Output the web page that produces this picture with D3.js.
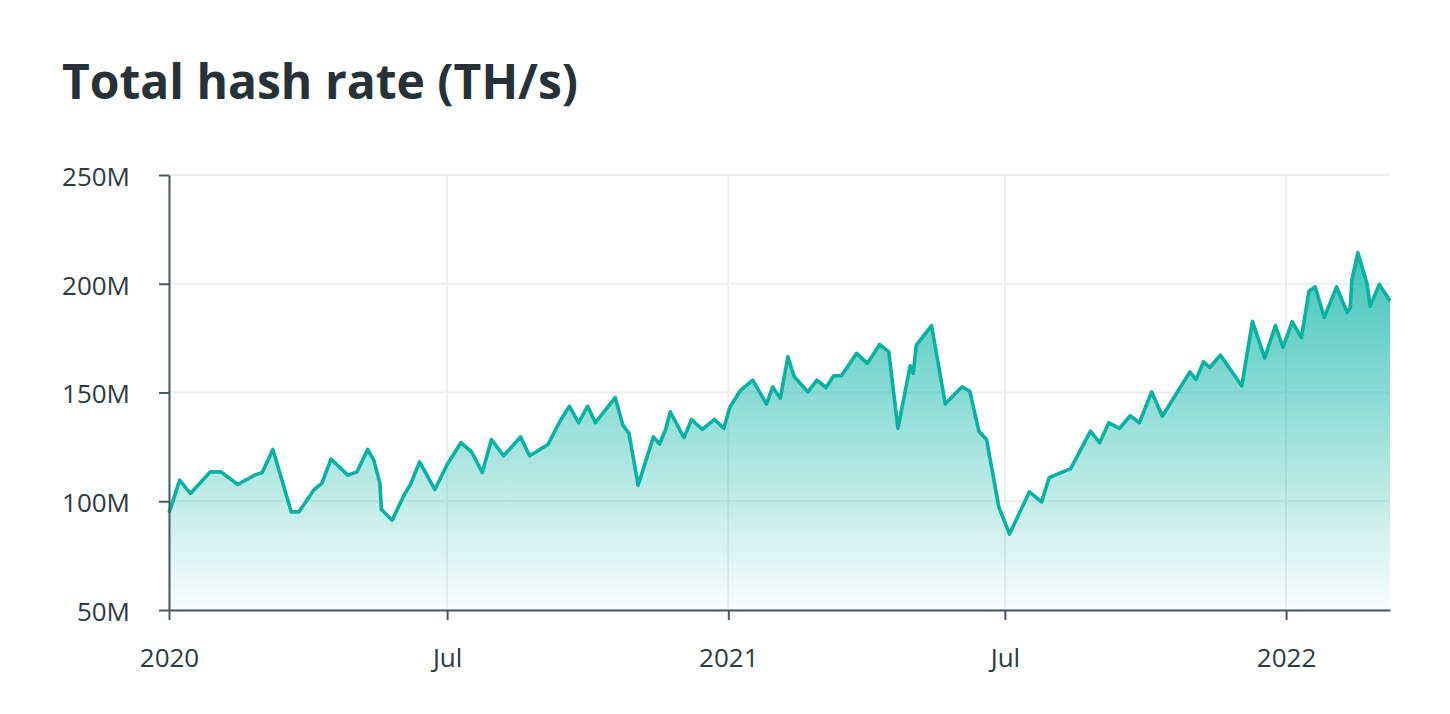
<!DOCTYPE html>
<html>
<head>
<meta charset="utf-8">
<script src="https://cdn.jsdelivr.net/npm/d3@7"></script>
<style>
  html, body { margin: 0; padding: 0; background: #fff; }
  svg { display: block; }
  text { font-family: "Open Sans", sans-serif; }
</style>
</head>
<body>
<svg id="chart" width="1450" height="714"></svg>
<script>
const title = "Total hash rate (TH/s)";

const dates = [
  "2020-01-01","2020-01-08","2020-01-15","2020-01-28","2020-02-04","2020-02-15","2020-02-26","2020-03-02",
  "2020-03-09","2020-03-21","2020-03-26","2020-04-05","2020-04-10","2020-04-16","2020-04-27","2020-05-03",
  "2020-05-10","2020-05-14","2020-05-18","2020-05-19","2020-05-26","2020-06-03","2020-06-07","2020-06-13",
  "2020-06-23","2020-07-01","2020-07-10","2020-07-17","2020-07-24","2020-07-30","2020-08-07","2020-08-18",
  "2020-08-24","2020-09-05","2020-09-13","2020-09-19","2020-09-25","2020-10-01","2020-10-06","2020-10-19",
  "2020-10-24","2020-10-28","2020-11-03","2020-11-13","2020-11-17","2020-11-21","2020-11-24","2020-12-03",
  "2020-12-08","2020-12-15","2020-12-23","2020-12-29","2021-01-02","2021-01-09","2021-01-17","2021-01-26",
  "2021-01-30","2021-02-04","2021-02-09","2021-02-13","2021-02-22","2021-02-28","2021-03-06","2021-03-11",
  "2021-03-16","2021-03-26","2021-04-02","2021-04-10","2021-04-16","2021-04-22","2021-04-30","2021-05-02",
  "2021-05-04","2021-05-14","2021-05-23","2021-05-30","2021-06-03","2021-06-08","2021-06-14","2021-06-19",
  "2021-06-27","2021-07-04","2021-07-17","2021-07-25","2021-07-30","2021-08-13","2021-08-26","2021-09-01",
  "2021-09-07","2021-09-14","2021-09-21","2021-09-27","2021-10-05","2021-10-12","2021-10-30","2021-11-03",
  "2021-11-08","2021-11-12","2021-11-19","2021-12-03","2021-12-10","2021-12-18","2021-12-25","2021-12-30",
  "2022-01-05","2022-01-11","2022-01-16","2022-01-20","2022-01-26","2022-02-03","2022-02-10","2022-02-12",
  "2022-02-13","2022-02-17","2022-02-23","2022-02-25","2022-03-03","2022-03-10"
];

// Total hash rate, millions of TH/s
const hashRate = [
  94.7,109.7,103.6,113.5,113.5,107.7,112,113.2,
  123.8,95.1,95.1,105.4,108.2,119.4,112,113.5,
  123.8,118.9,108.2,96.2,91.3,103.1,107.7,118.1,
  105.4,116.9,126.9,122.7,113.2,128.4,120.9,129.6,
  120.9,126.1,137,143.7,136.1,143.7,136.1,147.6,
  135,131.2,107.4,129.6,126.3,133,141.1,129.2,
  137.6,133,137.6,133.5,143.2,151,155.7,144.7,
  152.6,147.3,166.4,157.5,150.3,155.7,152.3,157.7,
  157.7,168,163.4,172.1,168.7,133.5,162.3,158.8,
  171.8,180.7,144.7,149.9,152.6,150.6,132.2,128.4,
  97.4,84.9,104.3,99.7,110.9,115,132.2,126.9,
  136.1,133.5,139.3,136.1,150.3,139.1,159.5,156,
  164.1,161.5,167.2,153,182.7,165.8,180.8,170.8,
  182.6,175.2,196.6,198.6,184.5,198.6,186.7,189,
  201.7,214.3,199.9,189.7,199.7,192.2
];

const yTicks = [50, 100, 150, 200, 250];
const yTickLabels = ["50M", "100M", "150M", "200M", "250M"];
const xTicks = ["2020-01-01", "2020-07-01", "2021-01-01", "2021-07-01", "2022-01-01"];
const xTickLabels = ["2020", "Jul", "2021", "Jul", "2022"];

(function () {
  const parse = d3.timeParse("%Y-%m-%d");
  const data = dates.map((d, i) => ({ date: parse(d), value: hashRate[i] }));

  const svg = d3.select("#chart");
  const mLeft = 169, mRight = 1390, mTop = 175, mBottom = 610;

  const x = d3.scaleTime()
    .domain([parse(dates[0]), parse(dates[dates.length - 1])])
    .range([mLeft, mRight]);
  const y = d3.scaleLinear().domain([50, 250]).range([mBottom, mTop]);

  const axisColor = "#455a64";
  const textColor = "#263238";
  const labelColor = "#2e3a41";
  const gridColor = "#eeeeee";

  // Title
  svg.append("text")
    .attr("x", 62).attr("y", 99)
    .attr("font-size", 48).attr("font-weight", 700)
    .attr("fill", textColor)
    .text(title);

  // Gridlines
  svg.append("g").selectAll("line").data(yTicks).join("line")
    .attr("x1", mLeft).attr("x2", mRight)
    .attr("y1", d => y(d)).attr("y2", d => y(d))
    .attr("stroke", gridColor).attr("stroke-width", 2);
  svg.append("g").selectAll("line").data(xTicks).join("line")
    .attr("x1", d => x(parse(d))).attr("x2", d => x(parse(d)))
    .attr("y1", mTop).attr("y2", mBottom)
    .attr("stroke", gridColor).attr("stroke-width", 2);

  // Gradient
  const defs = svg.append("defs");
  const grad = defs.append("linearGradient")
    .attr("id", "areaGrad")
    .attr("gradientUnits", "userSpaceOnUse")
    .attr("x1", 0).attr("x2", 0)
    .attr("y1", y(d3.max(hashRate))).attr("y2", mBottom);
  grad.append("stop").attr("offset", "0%").attr("stop-color", "#00b2a3").attr("stop-opacity", 0.75);
  grad.append("stop").attr("offset", "100%").attr("stop-color", "#00b2a3").attr("stop-opacity", 0.02);

  const area = d3.area()
    .x(d => x(d.date))
    .y0(mBottom)
    .y1(d => y(d.value));
  const line = d3.line()
    .x(d => x(d.date))
    .y(d => y(d.value));

  svg.append("path").datum(data)
    .attr("d", area)
    .attr("fill", "url(#areaGrad)");

  svg.append("path").datum(data)
    .attr("d", line)
    .attr("fill", "none")
    .attr("stroke", "#08b2a2")
    .attr("stroke-width", 3.6)
    .attr("stroke-linejoin", "round");

  // Axes
  const yAxis = d3.axisLeft(y)
    .tickValues(yTicks)
    .tickFormat((d, i) => yTickLabels[i])
    .tickSize(10).tickPadding(29).tickSizeOuter(0);
  const gy = svg.append("g").attr("transform", `translate(${mLeft},0)`).call(yAxis);

  const xAxis = d3.axisBottom(x)
    .tickValues(xTicks.map(parse))
    .tickFormat((d, i) => xTickLabels[i])
    .tickSize(10).tickPadding(29).tickSizeOuter(0);
  const gx = svg.append("g").attr("transform", `translate(0,${mBottom})`).call(xAxis);

  [gx, gy].forEach(g => {
    g.select(".domain").attr("stroke", axisColor).attr("stroke-width", 2);
    g.selectAll(".tick line").attr("stroke", axisColor).attr("stroke-width", 2);
    g.selectAll(".tick text")
      .attr("fill", labelColor)
      .attr("font-size", 26)
      .attr("font-family", "'Open Sans', sans-serif");
  });
  gy.selectAll(".tick text").attr("dy", "0.4em");
})();
</script>
</body>
</html>
